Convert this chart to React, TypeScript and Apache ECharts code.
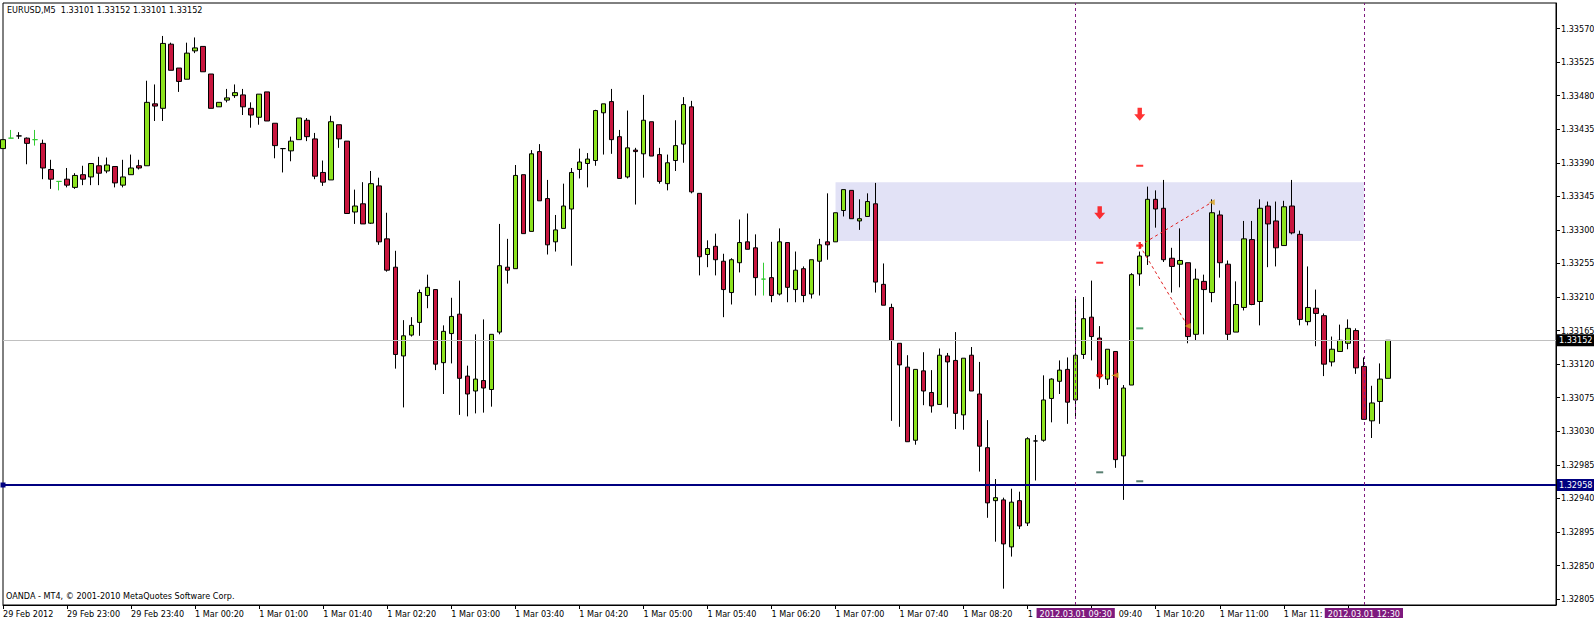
import React, { useEffect, useRef } from "react";
import * as echarts from "echarts";

const TITLE_TEXT = "EURUSD,M5\u00a0\u00a01.33101 1.33152 1.33101 1.33152";
const COPYRIGHT_TEXT = "OANDA - MT4, \u00a9 2001-2010 MetaQuotes Software Corp.";
const FONT = "'DejaVu Sans Condensed', 'Liberation Sans', sans-serif";

// bar times: first visible bar 29 Feb 2012 22:20, M5, plus empty right shift
const FIRST_BAR_MINUTE = 22 * 60 + 20;
const BAR_COUNT = 174;
const SLOT_COUNT = 195;
const categories: string[] = [];
for (let i = 0; i < SLOT_COUNT; i++) {
  const m = FIRST_BAR_MINUTE + 5 * i;
  const day = m >= 1440 ? "1 Mar" : "29 Feb";
  const t = m % 1440;
  categories.push(`${day} ${String(Math.floor(t / 60)).padStart(2, "0")}:${String(t % 60).padStart(2, "0")}`);
}
// time-axis labels as they are visible (partly hidden behind the purple time boxes)
const FIRST_LABEL = "29 Feb 2012";
const clippedLabels: Record<number, string> = {
  128: "1",
  136: "{lp|09:40}",
  160: "1 Mar 11:",
  168: "",
};

const opens = [
  1.33409, 1.33423, 1.33426, 1.33423, 1.33421, 1.33416, 1.33381, 1.33365, 1.33368, 1.33357,
  1.33374, 1.33371, 1.33386, 1.33379, 1.33385, 1.3336, 1.33374, 1.33386, 1.33386, 1.33469,
  1.33463, 1.33549, 1.33517, 1.33502, 1.3354, 1.33546, 1.33509, 1.33465, 1.33474, 1.3348,
  1.33481, 1.33463, 1.33451, 1.33485, 1.33443, 1.33409, 1.33406, 1.33421, 1.33447, 1.33422,
  1.33377, 1.33367, 1.33441, 1.33419, 1.33324, 1.33335, 1.33309, 1.33359, 1.33288, 1.3325,
  1.33131, 1.33159, 1.33176, 1.33212, 1.3322, 1.33122, 1.33161, 1.33187, 1.33104, 1.33084,
  1.33098, 1.33086, 1.33163, 1.3325, 1.33248, 1.33374, 1.33298, 1.33405, 1.33342, 1.33284,
  1.33302, 1.33328, 1.33381, 1.33389, 1.33393, 1.33457, 1.33472, 1.33425, 1.33371, 1.33407,
  1.33402, 1.33445, 1.33401, 1.33362, 1.33393, 1.33415, 1.33465, 1.33349, 1.33267, 1.33278,
  1.33258, 1.33216, 1.33256, 1.33284, 1.33276, 1.33234, 1.33236, 1.33214, 1.33283, 1.3322,
  1.33248, 1.33214, 1.33258, 1.33284, 1.33284, 1.33326, 1.33353, 1.33312, 1.33318, 1.33335,
  1.33227, 1.33196, 1.33148, 1.33116, 1.33018, 1.33111, 1.33082, 1.33066, 1.33131, 1.33125,
  1.33052, 1.33132, 1.3308, 1.33008, 1.32937, 1.32938, 1.32875, 1.32937, 1.32907, 1.33017,
  1.33018, 1.33074, 1.33097, 1.33113, 1.33072, 1.33133, 1.33183, 1.33155, 1.331, 1.33137,
  1.32997, 1.33092, 1.33241, 1.33265, 1.33341, 1.33329, 1.33262, 1.33254, 1.33256, 1.3316,
  1.33231, 1.33216, 1.3332, 1.33254, 1.33163, 1.33196, 1.33287, 1.33204, 1.33332, 1.33312,
  1.33279, 1.33332, 1.33294, 1.33177, 1.33195, 1.33185, 1.33123, 1.33137, 1.33148, 1.33165,
  1.33117, 1.33044, 1.3307, 1.33101,
];
const highs = [
  1.33421, 1.33434, 1.33431, 1.33424, 1.33434, 1.33421, 1.33394, 1.33365, 1.33383, 1.33376,
  1.33386, 1.33389, 1.33398, 1.33397, 1.33385, 1.33394, 1.33401, 1.33394, 1.335, 1.33495,
  1.3356, 1.33551, 1.33517, 1.33551, 1.33558, 1.33546, 1.33509, 1.33471, 1.33489, 1.33495,
  1.33489, 1.33471, 1.33482, 1.33485, 1.33443, 1.33409, 1.33425, 1.3345, 1.3345, 1.3343,
  1.33393, 1.33453, 1.33441, 1.33419, 1.33354, 1.33364, 1.33379, 1.3337, 1.33323, 1.33272,
  1.33179, 1.33183, 1.3322, 1.3324, 1.3322, 1.33172, 1.33209, 1.33232, 1.33118, 1.3316,
  1.3318, 1.3316, 1.33308, 1.33288, 1.33387, 1.33374, 1.33407, 1.33415, 1.33367, 1.3332,
  1.33362, 1.33383, 1.33409, 1.33403, 1.33461, 1.33469, 1.33489, 1.33434, 1.3346, 1.3341,
  1.33481, 1.33445, 1.3341, 1.33401, 1.33447, 1.33478, 1.33473, 1.33349, 1.33286, 1.33295,
  1.33268, 1.33262, 1.33314, 1.33322, 1.33294, 1.33256, 1.33284, 1.33302, 1.33283, 1.33271,
  1.33251, 1.3326, 1.33288, 1.33349, 1.33323, 1.33354, 1.33353, 1.33341, 1.33349, 1.33363,
  1.33255, 1.33201, 1.33148, 1.33132, 1.33113, 1.33136, 1.33112, 1.33141, 1.33135, 1.33163,
  1.33128, 1.33143, 1.33123, 1.33045, 1.32966, 1.32941, 1.32953, 1.32949, 1.33022, 1.33025,
  1.33105, 1.33101, 1.33125, 1.33129, 1.3321, 1.3321, 1.33232, 1.33171, 1.3314, 1.33137,
  1.33092, 1.33242, 1.33271, 1.33358, 1.33353, 1.33367, 1.33276, 1.33302, 1.33256, 1.33248,
  1.3324, 1.33341, 1.33326, 1.33259, 1.33231, 1.33312, 1.33312, 1.33341, 1.33338, 1.33338,
  1.33339, 1.33367, 1.33299, 1.33251, 1.3322, 1.33188, 1.33157, 1.33173, 1.3318, 1.33168,
  1.33129, 1.33091, 1.33121, 1.33152,
];
const lows = [
  1.33409, 1.33423, 1.33422, 1.33388, 1.33413, 1.33368, 1.33355, 1.33353, 1.33357, 1.33355,
  1.3336, 1.3336, 1.3336, 1.33376, 1.33357, 1.33357, 1.33374, 1.33381, 1.33386, 1.33446,
  1.33446, 1.33514, 1.33485, 1.33502, 1.33537, 1.33512, 1.33463, 1.33465, 1.33471, 1.33477,
  1.33454, 1.33437, 1.33441, 1.33446, 1.33396, 1.33377, 1.33392, 1.33421, 1.33419, 1.33368,
  1.33359, 1.33367, 1.3341, 1.33322, 1.33308, 1.33308, 1.33308, 1.3328, 1.33244, 1.33114,
  1.33062, 1.33157, 1.33158, 1.33195, 1.33112, 1.3308, 1.33121, 1.33052, 1.3305, 1.33054,
  1.33055, 1.33063, 1.3316, 1.33228, 1.33248, 1.33295, 1.33298, 1.33339, 1.33267, 1.33271,
  1.33302, 1.33252, 1.33369, 1.33357, 1.33386, 1.33401, 1.33402, 1.33369, 1.33369, 1.33334,
  1.3337, 1.33399, 1.33362, 1.33353, 1.33379, 1.3339, 1.33349, 1.33239, 1.3325, 1.33239,
  1.33183, 1.332, 1.33243, 1.33274, 1.33212, 1.33212, 1.33203, 1.33212, 1.33203, 1.33203,
  1.33203, 1.33208, 1.33212, 1.3326, 1.33284, 1.33318, 1.33315, 1.333, 1.33318, 1.33216,
  1.33199, 1.33044, 1.33036, 1.33016, 1.33012, 1.33065, 1.33055, 1.33066, 1.33062, 1.33033,
  1.33032, 1.33084, 1.32976, 1.32914, 1.32882, 1.32819, 1.32862, 1.32899, 1.32903, 1.32964,
  1.33016, 1.33042, 1.3308, 1.3304, 1.33048, 1.33127, 1.33125, 1.33087, 1.33092, 1.32981,
  1.32938, 1.33092, 1.33225, 1.33253, 1.33303, 1.33257, 1.33216, 1.33223, 1.33148, 1.33152,
  1.3316, 1.33203, 1.33236, 1.33152, 1.33163, 1.33192, 1.33199, 1.33172, 1.3325, 1.33251,
  1.33279, 1.33294, 1.33172, 1.33172, 1.33144, 1.33104, 1.33117, 1.33137, 1.3314, 1.33107,
  1.33046, 1.33021, 1.3304, 1.33101,
];
const closes = [
  1.33421, 1.33423, 1.33426, 1.33416, 1.33421, 1.33383, 1.33368, 1.33365, 1.3336, 1.33373,
  1.33368, 1.33389, 1.33376, 1.33387, 1.33363, 1.33371, 1.33383, 1.33383, 1.33471, 1.33466,
  1.3355, 1.33514, 1.33499, 1.33537, 1.33544, 1.33512, 1.33463, 1.33471, 1.33477, 1.33484,
  1.33465, 1.33454, 1.33482, 1.33446, 1.33413, 1.33409, 1.33419, 1.3345, 1.33425, 1.33372,
  1.33364, 1.33445, 1.33422, 1.33322, 1.33332, 1.33308, 1.33362, 1.33284, 1.33246, 1.33133,
  1.33158, 1.33172, 1.33216, 1.33223, 1.3312, 1.33164, 1.33184, 1.33101, 1.3308, 1.331,
  1.33088, 1.3316, 1.33252, 1.33246, 1.33373, 1.33295, 1.33402, 1.33339, 1.3328, 1.333,
  1.33332, 1.33377, 1.33391, 1.33395, 1.3346, 1.33469, 1.33421, 1.33369, 1.3341, 1.33405,
  1.33447, 1.33399, 1.33365, 1.3339, 1.33413, 1.33468, 1.33351, 1.33264, 1.33275, 1.3326,
  1.3322, 1.3326, 1.33283, 1.33274, 1.33236, 1.33234, 1.33212, 1.33284, 1.33223, 1.33246,
  1.33212, 1.3326, 1.3328, 1.3328, 1.33323, 1.33354, 1.33315, 1.33315, 1.33338, 1.3323,
  1.33199, 1.33152, 1.33119, 1.33016, 1.33113, 1.33084, 1.33064, 1.33132, 1.33123, 1.33054,
  1.33128, 1.33084, 1.3301, 1.32934, 1.32941, 1.32879, 1.32935, 1.32903, 1.3302, 1.33017,
  1.33072, 1.331, 1.33112, 1.33069, 1.33132, 1.33181, 1.33157, 1.33103, 1.3314, 1.32992,
  1.33088, 1.3324, 1.33265, 1.33341, 1.33328, 1.3326, 1.33251, 1.33259, 1.33157, 1.33234,
  1.3322, 1.33323, 1.33256, 1.3316, 1.332, 1.33288, 1.332, 1.33329, 1.33308, 1.33276,
  1.33331, 1.33296, 1.3318, 1.33196, 1.33188, 1.3312, 1.3314, 1.33152, 1.33168, 1.33115,
  1.33046, 1.33068, 1.331, 1.33152,
];

const greenDojiBars = [1, 4, 7, 95];
const priceTicks = [
  1.32805, 1.3285, 1.32895, 1.3294, 1.32985, 1.3303, 1.33075, 1.3312, 1.33165, 1.3321,
  1.33255, 1.333, 1.33345, 1.3339, 1.33435, 1.3348, 1.33525, 1.3357,
];
const Y_MIN = 1.327971;
const Y_MAX = 1.336042;

const BID_PRICE = 1.33152;
const SUPPORT_PRICE = 1.32958;
const ZONE = { fromBar: 104, toBar: 170, top: 1.33364, bottom: 1.33285 };
const VLINES = [
  { bar: 134, label: "2012.03.01 09:30" },
  { bar: 170, label: "2012.03.01 12:30" },
];

const arrowMarks = [[142, 1.33455], [137, 1.33323]];
const redDashes = [[142, 1.33386], [137, 1.33256]];
const greenDashes = [[142, 1.33168]];
const darkDashes = [[137, 1.32975], [142, 1.32963]];
const starMarks = [[142, 1.33279], [137, 1.33105]];
const zigUp = [[142, 1.33279], [151, 1.33337]];
const zigDown = [[142, 1.33279], [148, 1.33171]];
const orangeStub = [[137, 1.33105], [139, 1.33105]];
const orangeTips = [[151, 1.33337], [148, 1.33171], [139, 1.33105]];

const BULL = "#8CE21E";
const BEAR = "#C8163E";
const DOJI_GREEN = "#33CC33";
const PURPLE = "#7E1A7E";

export default function App() {
  const ref = useRef<HTMLDivElement>(null);

  useEffect(() => {
    if (!ref.current) return;
    const chart = echarts.init(ref.current, undefined, { renderer: "svg" });

    const candleData = opens.map((o, i) => {
      const item: any = { value: [o, closes[i], lows[i], highs[i]] };
      if (greenDojiBars.includes(i)) {
        item.itemStyle = { borderColor: DOJI_GREEN, borderColor0: DOJI_GREEN, borderColorDoji: DOJI_GREEN };
      }
      return item;
    });

    const dashSeries = (name: string, data: number[][], color: string) => ({
      name,
      type: "scatter",
      data,
      symbol: "rect",
      symbolSize: [7, 2],
      itemStyle: { color },
      z: 4,
      silent: true,
    });

    const priceBoxLabel = (price: number, bg: string) => ({
      show: true,
      position: "end",
      distance: 1,
      formatter: price.toFixed(5),
      color: "#fff",
      backgroundColor: bg,
      padding: [2, 2, 1, 2],
      fontSize: 9,
      fontFamily: FONT,
    });

    const option: any = {
      animation: false,
      backgroundColor: "#ffffff",
      textStyle: { fontFamily: FONT },
      grid: {
        left: 3,
        right: 38,
        top: 3,
        bottom: 16,
        show: true,
        borderColor: "#000",
        borderWidth: 1,
        backgroundColor: "#fff",
        containLabel: false,
        outerBoundsMode: "none",
      },
      xAxis: {
        type: "category",
        data: categories,
        boundaryGap: false,
        axisLine: { show: true, lineStyle: { color: "#000", width: 1 } },
        axisTick: {
          show: true,
          length: 4,
          lineStyle: { color: "#000" },
          interval: (idx: number) => idx % 8 === 0 && idx < BAR_COUNT,
        },
        axisLabel: {
          interval: 0,
          align: "left",
          margin: 4,
          color: "#000",
          fontSize: 9,
          fontFamily: FONT,
          rich: { lp: { padding: [0, 0, 0, 27], fontSize: 9, fontFamily: FONT, color: "#000" } },
          formatter: (v: string, idx: number) => {
            if (idx === 0) return FIRST_LABEL;
            if (idx % 8 !== 0 || idx >= BAR_COUNT) return "";
            if (idx in clippedLabels) return clippedLabels[idx];
            return v;
          },
        },
        splitLine: { show: false },
      },
      yAxis: {
        type: "value",
        position: "right",
        min: Y_MIN,
        max: Y_MAX,
        scale: true,
        axisLine: { show: true, lineStyle: { color: "#000", width: 1 } },
        axisTick: { show: true, length: 4, customValues: priceTicks, lineStyle: { color: "#000" } },
        axisLabel: {
          customValues: priceTicks,
          margin: 5,
          color: "#000",
          fontSize: 9,
          fontFamily: FONT,
          padding: [0, 0, 4, 0],
          formatter: (v: number) => v.toFixed(5),
        },
        splitLine: { show: false },
      },
      graphic: [
        {
          type: "text",
          left: 7,
          top: 5,
          style: { text: TITLE_TEXT, fill: "#000", font: `9px ${FONT}` },
          z: 100,
        },
        {
          type: "text",
          left: 6,
          top: 591,
          style: { text: COPYRIGHT_TEXT, fill: "#000", font: `9px ${FONT}` },
          z: 100,
        },
      ],
      series: [
        {
          name: "EURUSD",
          type: "candlestick",
          data: candleData,
          barWidth: 5,
          z: 2,
          itemStyle: {
            color: BULL,
            color0: BEAR,
            borderColor: "#000",
            borderColor0: "#000",
            borderColorDoji: "#000",
            borderWidth: 1,
          },
          markArea: {
            silent: true,
            z: 1,
            itemStyle: { color: "#E2E2F6", opacity: 1 },
            data: [
              [
                { xAxis: ZONE.fromBar, yAxis: ZONE.top },
                { xAxis: ZONE.toBar, yAxis: ZONE.bottom },
              ],
            ],
          },
          markLine: {
            silent: true,
            symbol: "none",
            precision: 5,
            z: 5,
            data: [
              {
                yAxis: BID_PRICE,
                lineStyle: { color: "#C0C0C0", width: 1, type: "solid" },
                label: priceBoxLabel(BID_PRICE, "#000"),
              },
              {
                yAxis: SUPPORT_PRICE,
                symbol: ["emptyRect", "emptyRect"],
                symbolSize: 5,
                lineStyle: { color: "#000080", width: 2, type: "solid" },
                label: priceBoxLabel(SUPPORT_PRICE, "#000080"),
              },
              ...VLINES.map((v) => ({
                xAxis: v.bar,
                lineStyle: { color: PURPLE, width: 1, type: [3, 3] },
                label: {
                  show: true,
                  position: "start",
                  distance: 3,
                  formatter: v.label,
                  color: "#fff",
                  backgroundColor: PURPLE,
                  padding: [1, 3, 0, 3],
                  fontSize: 9,
                  fontFamily: FONT,
                },
              })),
            ],
          },
        },
        {
          name: "zigUp",
          type: "line",
          data: zigUp,
          symbol: "none",
          lineStyle: { color: "#E02020", width: 1, type: [3, 3] },
          z: 3,
          silent: true,
        },
        {
          name: "zigDown",
          type: "line",
          data: zigDown,
          symbol: "none",
          lineStyle: { color: "#E02020", width: 1, type: [3, 3] },
          z: 3,
          silent: true,
        },
        {
          name: "stub",
          type: "line",
          data: orangeStub,
          symbol: "none",
          lineStyle: { color: "#E0A030", width: 1, type: [3, 3] },
          z: 3,
          silent: true,
        },
        {
          name: "tips",
          type: "scatter",
          data: orangeTips,
          symbol: "triangle",
          symbolRotate: 90,
          symbolSize: 6,
          itemStyle: { color: "#D9A21B" },
          z: 4,
          silent: true,
        },
        {
          name: "arrows",
          type: "scatter",
          data: arrowMarks,
          symbol: "path://M3,0 L7,0 L7,6 L10,6 L5,12 L0,6 L3,6 Z",
          symbolSize: [11, 13],
          itemStyle: { color: "#FF0000" },
          z: 4,
          silent: true,
        },
        {
          name: "stars",
          type: "scatter",
          data: starMarks,
          symbol: "path://M2,0 L4,0 L4,2 L6,2 L6,4 L4,4 L4,6 L2,6 L2,4 L0,4 L0,2 L2,2 Z",
          symbolSize: 7,
          itemStyle: { color: "#FF0000" },
          z: 4,
          silent: true,
        },
        dashSeries("redDash", redDashes, "#FF0000"),
        dashSeries("greenDash", greenDashes, "#2E8B57"),
        dashSeries("darkDash", darkDashes, "#2F5F4F"),
      ],
    };

    chart.setOption(option);
    return () => chart.dispose();
  }, []);

  return (
    <div
      ref={ref}
      style={{ position: "absolute", left: 0, top: 0, width: 1594, height: 621, background: "#fff" }}
    />
  );
}
